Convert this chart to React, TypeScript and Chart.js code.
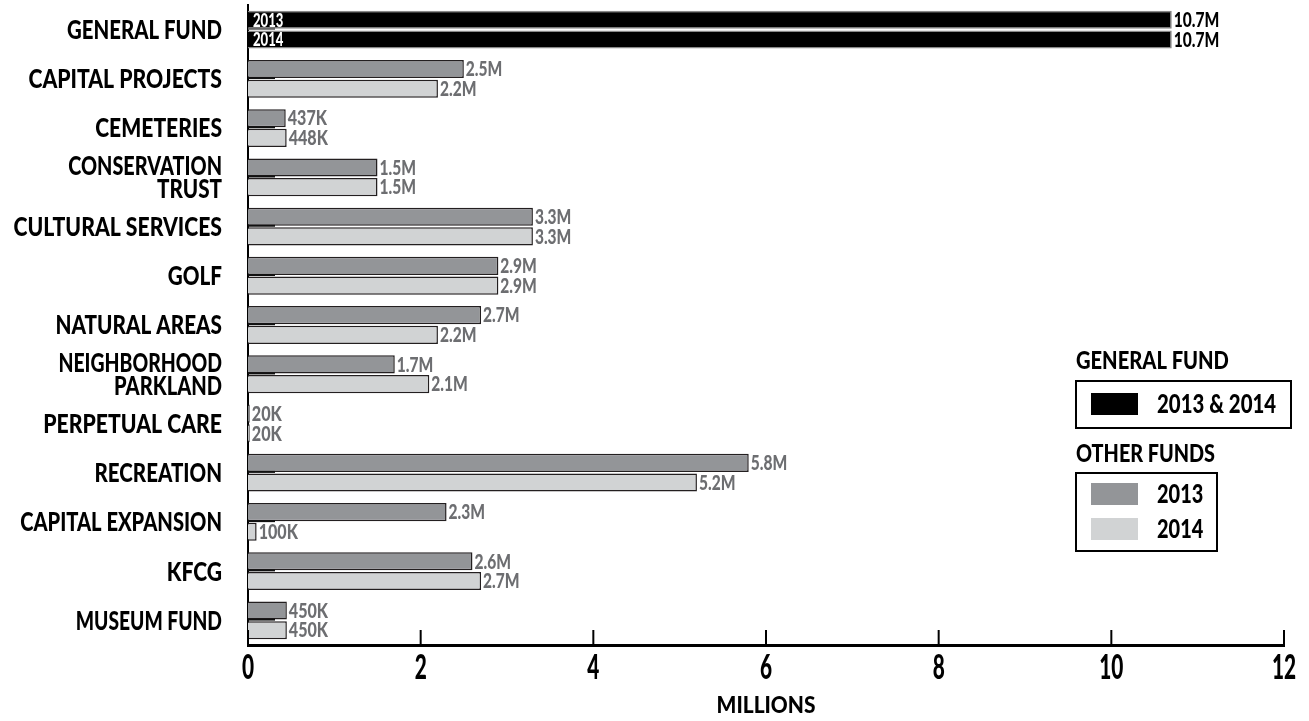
import React, { useEffect, useRef } from "react";
import { Chart, registerables } from "chart.js";

Chart.register(...registerables);

const categories: string[][] = [
  ["GENERAL FUND"],
  ["CAPITAL PROJECTS"],
  ["CEMETERIES"],
  ["CONSERVATION", "TRUST"],
  ["CULTURAL SERVICES"],
  ["GOLF"],
  ["NATURAL AREAS"],
  ["NEIGHBORHOOD", "PARKLAND"],
  ["PERPETUAL CARE"],
  ["RECREATION"],
  ["CAPITAL EXPANSION"],
  ["KFCG"],
  ["MUSEUM FUND"],
];

const values2013 = [10.7, 2.5, 0.437, 1.5, 3.3, 2.9, 2.7, 1.7, 0.02, 5.8, 2.3, 2.6, 0.45];
const values2014 = [10.7, 2.2, 0.448, 1.5, 3.3, 2.9, 2.2, 2.1, 0.02, 5.2, 0.1, 2.7, 0.45];
const xTicks = [0, 2, 4, 6, 8, 10, 12];

const REF_FONT = '"Liberation Sans", Arial, sans-serif';
const FONT = 'Lato, "Liberation Sans", sans-serif';
const C2013 = "#939598";
const C2014 = "#d1d3d4";
const CAP = 0.72;

function fmt(v: number) {
  return v < 1 ? `${Math.round(v * 1000)}K` : `${v.toFixed(1)}M`;
}

// draws bold text horizontally compressed; width is calibrated against Liberation Sans Bold
function capText(
  ctx: CanvasRenderingContext2D,
  text: string,
  x: number,
  yCenter: number,
  size: number,
  scale: number,
  align: CanvasTextAlign,
  color: string
) {
  ctx.save();
  ctx.font = `bold ${size}px ${REF_FONT}`;
  const target = ctx.measureText(text).width * scale;
  ctx.font = `900 ${size}px ${FONT}`;
  const w = ctx.measureText(text).width || 1;
  ctx.fillStyle = color;
  ctx.textBaseline = "alphabetic";
  ctx.textAlign = align;
  ctx.translate(x, yCenter + (size * CAP) / 2);
  ctx.scale(target / w, 1);
  ctx.fillText(text, 0, 0);
  ctx.restore();
}

const drawText = {
  id: "drawText",
  afterDatasetsDraw(chart: any) {
    const ctx = chart.ctx;
    chart.data.datasets.forEach((ds: any, di: number) => {
      const meta = chart.getDatasetMeta(di);
      meta.data.forEach((bar: any, i: number) => {
        const v = ds.data[i];
        const { x, y, base, height } = bar.getProps(["x", "y", "base", "height"], true);
        if (di === 0 && x - base > 30) {
          ctx.save();
          ctx.strokeStyle = i === 0 ? "#666" : "#111";
          ctx.lineWidth = 2;
          ctx.beginPath();
          ctx.moveTo(base, y + height / 2);
          ctx.lineTo(base + 27, y + height / 2);
          ctx.stroke();
          ctx.restore();
        }
        capText(ctx, fmt(v), x + 2, y, 20, 0.82, "left", i === 0 ? "#000" : "#6d6e71");
        if (i === 0) capText(ctx, ds.label, base + 5, y, 19, 0.72, "left", "#fff");
      });
    });
  },
  afterDraw(chart: any) {
    const ctx = chart.ctx;
    const xs = chart.scales.x;
    const ys = chart.scales.y;
    ctx.save();
    ctx.strokeStyle = "#000";
    ctx.lineWidth = 2;
    xs.ticks.forEach((t: any) => {
      const px = xs.getPixelForValue(t.value);
      ctx.beginPath();
      ctx.moveTo(px, xs.top);
      ctx.lineTo(px, xs.top - 15);
      ctx.stroke();
      capText(ctx, String(t.value), px, xs.top + 21.5, 35, 0.62, "center", "#000");
    });
    ctx.restore();
    capText(ctx, "MILLIONS", (xs.left + xs.right) / 2, xs.top + 60, 23, 0.9, "center", "#000");
    categories.forEach((lines, i) => {
      const cy = ys.getPixelForTick(i);
      const n = lines.length;
      lines.forEach((ln, k) => {
        const yy = cy + (k - (n - 1) / 2) * 23;
        capText(ctx, ln, ys.right - 26, yy, 26, 0.75, "right", "#000");
      });
    });

    // legend
    ctx.save();
    ctx.strokeStyle = "#000";
    ctx.lineWidth = 2;
    capText(ctx, "GENERAL FUND", 1076, 360, 25, 0.77, "left", "#000");
    ctx.strokeRect(1076, 381, 215, 47);
    ctx.fillStyle = "#000";
    ctx.fillRect(1091, 393, 47, 22);
    capText(ctx, "2013 & 2014", 1157, 404, 26, 0.8, "left", "#000");
    capText(ctx, "OTHER FUNDS", 1076, 453, 25, 0.77, "left", "#000");
    ctx.strokeRect(1076, 473, 141, 78);
    ctx.fillStyle = C2013;
    ctx.fillRect(1091, 483, 47, 22);
    ctx.fillStyle = C2014;
    ctx.fillRect(1091, 518, 47, 22);
    capText(ctx, "2013", 1157, 494, 26, 0.8, "left", "#000");
    capText(ctx, "2014", 1157, 529, 26, 0.8, "left", "#000");
    ctx.restore();
  },
};

export default function App() {
  const ref = useRef<HTMLCanvasElement>(null);
  useEffect(() => {
    if (!ref.current) return;
    const chart = new Chart(ref.current, {
      type: "bar",
      data: {
        labels: categories.map((c) => c.join(" ")),
        datasets: [
          {
            label: "2013",
            data: values2013,
            backgroundColor: values2013.map((_, i) => (i === 0 ? "#000" : C2013)),
            borderColor: values2013.map((_, i) => (i === 0 ? "#888" : "#231f20")),
            borderWidth: 1.5,
            categoryPercentage: 0.8,
            barPercentage: 0.92,
          },
          {
            label: "2014",
            data: values2014,
            backgroundColor: values2014.map((_, i) => (i === 0 ? "#000" : C2014)),
            borderColor: values2014.map((_, i) => (i === 0 ? "#888" : "#231f20")),
            borderWidth: 1.5,
            categoryPercentage: 0.8,
            barPercentage: 0.92,
          },
        ],
      },
      options: {
        indexAxis: "y",
        responsive: false,
        animation: false,
        layout: { padding: { left: 0, right: 25, top: 5, bottom: 0 } },
        plugins: { legend: { display: false }, tooltip: { enabled: false } },
        scales: {
          y: {
            afterFit: (s: any) => {
              s.width = 248;
            },
            grid: { display: false, drawTicks: false },
            border: { display: true, color: "#000", width: 2 },
            ticks: { display: false },
          },
          x: {
            min: 0,
            max: 12,
            afterFit: (s: any) => {
              s.height = 76;
            },
            afterBuildTicks: (s: any) => {
              s.ticks = xTicks.map((v) => ({ value: v }));
            },
            grid: { display: false, drawTicks: false },
            border: { display: true, color: "#000", width: 3 },
            ticks: { display: false },
          },
        },
      },
      plugins: [drawText],
    } as any);
    return () => chart.destroy();
  }, []);

  return (
    <div style={{ position: "absolute", left: 0, top: 0, width: 1309, height: 721, background: "#fff" }}>
      <canvas ref={ref} width={1309} height={721} style={{ display: "block" }} />
    </div>
  );
}
